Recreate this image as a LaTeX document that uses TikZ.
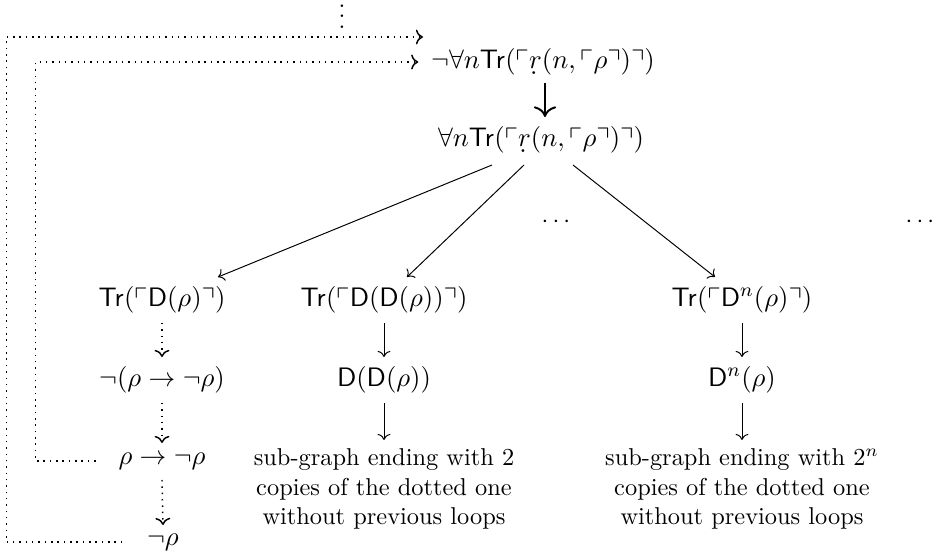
\documentclass[tikz,border=0pt]{standalone}
\usepackage{amsmath}
\usepackage{amssymb}
\usepackage{accents}
\usetikzlibrary{arrows.meta}
\newcommand{\qt}[1]{\ulcorner #1\urcorner}
\newcommand{\rdot}{\underaccent{\dot}{r}}
\newcommand{\Tr}{\mathsf{Tr}}
\newcommand{\Dd}{\mathsf{D}}
\newcommand{\tightvdots}{\vbox{\baselineskip4.4pt\lineskiplimit0pt\hbox{.}\hbox{.}\hbox{.}}}

\begin{document}
\begin{tikzpicture}[x=0.41pt, y=-0.41pt,
  form/.style={inner sep=1pt, font=\fontsize{10.95}{13.6}\selectfont},
  subtext/.style={align=center, inner sep=1pt},
  arr/.style={-{To}, line width=0.4pt},
  bigarr/.style={-{To[scale=1.3]}, line width=0.8pt},
  dotarr/.style={dotted, line width=0.6pt, -{To}},
  >=To
]
\useasboundingbox (0,0) rectangle (937,556);

% top of the tree
\node[form] (neg) at (543,62) {$\neg\forall n\Tr(\qt{\rdot(n,\qt{\rho})})$};
\node[form] (all) at (541,140) {$\forall n\Tr(\qt{\rdot(n,\qt{\rho})})$};
\node[inner sep=0pt, anchor=south] (vdots) at (342,29) {\tightvdots};
\node (hdotsa) at (558,222) {$\cdots$};
\node (hdotsb) at (922,222) {$\cdots$};

% three branches
\node[form] (tra) at (162,300) {$\Tr(\qt{\Dd(\rho)})$};
\node[form] (trb) at (384,300) {$\Tr(\qt{\Dd(\Dd(\rho))})$};
\node[form] (trn) at (742,300) {$\Tr(\qt{\Dd^n(\rho)})$};

\node[form] (conta) at (162,380) {$\neg(\rho\to\neg\rho)$};
\node[form] (ddb) at (384,380) {$\Dd(\Dd(\rho))$};
\node[form] (ddn) at (742,380) {$\Dd^n(\rho)$};

\node[form] (contb) at (162,461) {$\rho\to\neg\rho$};
\node[subtext] (subb) at (384,489)
  {sub-graph ending with 2\\copies of the dotted one\\without previous loops};
\node[subtext] (subn) at (742,489)
  {sub-graph ending with $2^n$\\copies of the dotted one\\without previous loops};

\node[form] (negrho) at (163,542) {$\neg\rho$};
\coordinate (outer end) at (423,37);

\draw[bigarr] ([shift={(2,21)}]neg.center) -- ([shift={(4,-23)}]all.center);
\draw[arr] ([shift={(-49,25)}]all.center) -- ([shift={(56,-23)}]tra.center);
\draw[arr] ([shift={(-17,25)}]all.center) -- ([shift={(23,-23)}]trb.center);
\draw[arr] ([shift={(32,25)}]all.center) -- ([shift={(-27,-23)}]trn.center);

% left column, dotted
\draw[dotarr] ([shift={(0,23)}]tra.center) -- ([shift={(0,-23)}]conta.center);
\draw[dotarr] ([shift={(0,23)}]conta.center) -- ([shift={(0,-18)}]contb.center);
\draw[dotarr] ([shift={(0,19)}]contb.center) -- ([shift={(0,-17)}]negrho.center);

% middle and right columns
\draw[arr] ([shift={(0,23)}]trb.center) -- ([shift={(0,-23)}]ddb.center);
\draw[arr] ([shift={(0,23)}]ddb.center) -- ([shift={(0,-49)}]subb.center);
\draw[arr] ([shift={(0,23)}]trn.center) -- ([shift={(0,-23)}]ddn.center);
\draw[arr] ([shift={(0,23)}]ddn.center) -- ([shift={(0,-49)}]subn.center);

% loops back to the top
\draw[dotarr] ([shift={(-20,0)}]contb.west) -- ++(-60,0) |- ([shift={(-10,0)}]neg.west);
\draw[dotarr] ([shift={(-22,0)}]negrho.west) -- ++(-116,0) |- (outer end);
\end{tikzpicture}
\end{document}
